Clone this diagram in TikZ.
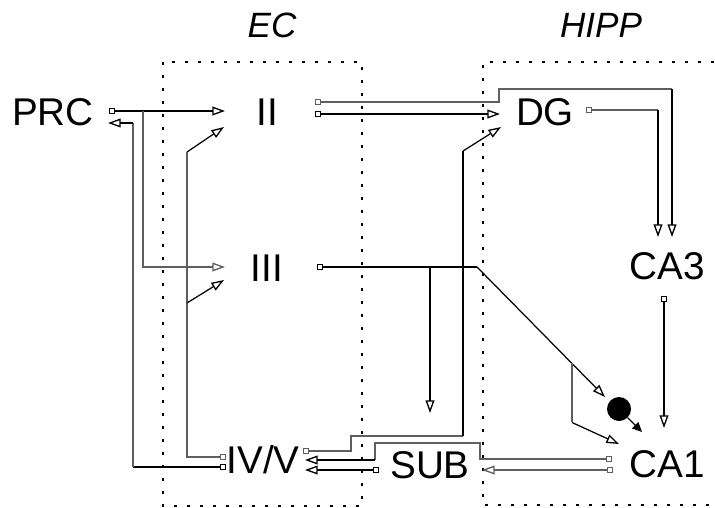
\documentclass[tikz,border=0pt]{standalone}
\usepackage{fontspec}
\setmainfont{Liberation Sans}
\usetikzlibrary{arrows.meta, calc}

\begin{document}
\begin{tikzpicture}[
    x=0.02cm, y=-0.02cm,
    font=\fontsize{22}{26}\selectfont,
    cell/.style={inner sep=0pt},
    area/.style={inner sep=0pt, font=\itshape\fontsize{20}{24}\selectfont},
    region/.style={draw=black, line width=1.5pt, dash pattern=on 1.5pt off 5.9pt},
    fibre/.style={draw=black, line width=1.1pt},
    thinfibre/.style={draw=wire, line width=0.75pt},
    slant/.style={draw=black, line width=0.7pt},
    sq/.tip={Square[open, length=3.4pt, width=3.4pt, line width=0.65pt]},
    tri/.tip={Triangle[open, length=7.2pt, width=5pt, line width=0.75pt]},
]

% ===== Colors =====
\definecolor{wire}{RGB}{95,95,95}

\useasboundingbox (0,0) rectangle (715,507);

% ===== Regions =====
\draw[region] (163,62) rectangle (362,506);
\draw[region] (740,62) -- (483,62) -- (483,505) -- (740,505);
\node[area] (ec) at (272,25) {EC};
\node[area] (hipp) at (601,25) {HIPP};

% ===== Cell layers =====
\node[cell] (prc) at (53,112) {PRC};
\node[cell] (ii) at (267,112) {II};
\node[cell] (iii) at (267,268) {III};
\node[cell] (ivv) at (263,460) {IV/V};
\node[cell] (dg) at (545,112) {DG};
\node[cell] (ca3) at (667,266) {CA3};
\node[cell] (ca1) at (667,464) {CA1};
\node[cell] (sub) at (430,465) {SUB};
\node[circle, fill=black, minimum size=0.48cm, inner sep=0pt] (ob) at (619,409) {};

% ===== Ports (square = origin, triangle = target) =====
\coordinate (prc-o) at (109,111);
\coordinate (prc-i) at (108,123);
\coordinate (ii-i1) at (225,111);
\coordinate (ii-i2) at (224,127);
\coordinate (ii-o1) at (315,102);
\coordinate (ii-o2) at (315,114);
\coordinate (iii-i1) at (225,267);
\coordinate (iii-i2) at (224,280);
\coordinate (iii-o) at (317,267);
\coordinate (ivv-o1) at (226,467);
\coordinate (ivv-o2) at (226,457);
\coordinate (ivv-o3) at (303,451);
\coordinate (ivv-i1) at (305,460);
\coordinate (ivv-i2) at (305,470);
\coordinate (dg-i1) at (500,114);
\coordinate (dg-i2) at (501,127);
\coordinate (dg-o) at (586,110);
\coordinate (ca3-i1) at (658,237);
\coordinate (ca3-i2) at (672,237);
\coordinate (ca3-o) at (664,296);
\coordinate (ca1-i1) at (619,444);
\coordinate (ca1-i2) at (664,428);
\coordinate (ca1-i3) at (642,432);
\coordinate (ca1-o1) at (612,459);
\coordinate (ca1-o2) at (613,470);
\coordinate (ob-i) at (605,397);
\coordinate (sub-i1) at (482,470);
\coordinate (sub-i2) at (430,413);
\coordinate (sub-o) at (379,470);

% ===== PRC <-> EC =====
\coordinate (prc-b) at (143,111);
\draw[fibre, sq-tri] (prc-o) -- (ii-i1);
\draw[thinfibre, -tri] (prc-b) |- (iii-i1);
\coordinate (k1) at (133,467);
\coordinate (k2) at (133,123);
\draw[fibre, sq-] (ivv-o1) -- (k1);
\draw[thinfibre] (k1) -- (k2);
\draw[fibre, -tri] (k2) -- (prc-i);

% deep layers back to II and III
\coordinate (k3) at (187,152);
\coordinate (k4) at (187,303);
\draw[thinfibre, sq-] (ivv-o2) -| (k3);
\draw[slant, -tri] (k3) -- (ii-i2);
\draw[slant, -tri] (k4) -- (iii-i2);

% ===== EC -> HIPP =====
\coordinate (k5) at (672,89);
\draw[thinfibre, sq-] (ii-o1) -| (499,89) -- (k5);
\draw[fibre, -tri] (k5) -- (ca3-i2);
\draw[fibre, sq-tri] (ii-o2) -- (dg-i1);

\coordinate (k7) at (477,267);
\coordinate (k8) at (430,267);
\coordinate (k9) at ($(k7)!0.742!(ob-i)$);
\draw[fibre, sq-] (iii-o) -- (k7);
\draw[fibre, -tri] (k8) -- (sub-i2);
\draw[slant, -tri] (k7) -- (ob-i);
\draw[thinfibre] (k9) -- ++(0,59) coordinate (k13);
\draw[slant, -tri] (k13) -- (ca1-i1);

% ===== Trisynaptic loop =====
\coordinate (k6) at (658,110);
\draw[thinfibre, sq-] (dg-o) -- (k6);
\draw[fibre, -tri] (k6) -- (ca3-i1);
\draw[fibre, sq-tri] (ca3-o) -- (ca1-i2);
\draw[slant, -{Triangle[length=5.5pt, width=5pt]}] (ob) -- (ca1-i3);

% ===== HIPP -> EC deep layers =====
\coordinate (k10) at (463,436);
\coordinate (k11) at (463,151);
\draw[thinfibre, sq-] (ivv-o3) -| (351,436) -- (k10);
\draw[fibre] (k10) -- (k11);
\draw[slant, -tri] (k11) -- (dg-i2);

\coordinate (k12) at (375,460);
\draw[thinfibre, sq-] (ca1-o1) -| (480,443) -| (k12);
\draw[fibre, -tri] (k12) -- (ivv-i1);
\draw[fibre, sq-tri] (sub-o) -- (ivv-i2);
\draw[thinfibre, sq-tri] (ca1-o2) -- (sub-i1);

\end{tikzpicture}
\end{document}
